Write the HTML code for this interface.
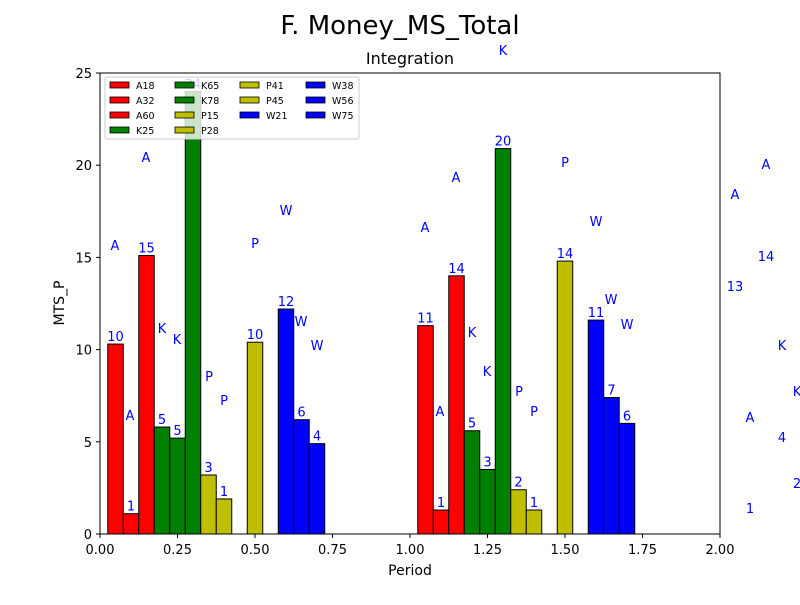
<!DOCTYPE html>
<html><head><meta charset="utf-8"><style>body{margin:0;background:#fff}svg{font-family:"DejaVu Sans","Liberation Sans",sans-serif}</style></head>
<body>
<svg id="c" width="800" height="600" xmlns="http://www.w3.org/2000/svg">
<text x="400" y="34" font-size="26" text-anchor="middle">F. Money_MS_Total</text>
<text x="410" y="64" font-size="16" text-anchor="middle">Integration</text>
<g id="bars"></g><g id="ann"></g>
<rect x="100" y="73" width="620" height="461" fill="none" stroke="#000" stroke-width="1"/>
<g id="ticks"></g>
<text x="410" y="575" font-size="14" text-anchor="middle">Period</text>
<text x="64" y="303" font-size="14" text-anchor="middle" transform="rotate(-90 64 303)">MTS_P</text>
<g id="legend"></g>
</svg>
<script>
const xPos=[0.05,0.1,0.15,0.2,0.25,0.3,0.35,0.4,0.5,0.6,0.65,0.7,1.05,1.1,1.15,1.2,1.25,1.3,1.35,1.4,1.5,1.6,1.65,1.7];
const values=[10.3,1.1,15.1,5.8,5.2,24,3.2,1.9,10.4,12.2,6.2,4.9,11.3,1.3,14,5.6,3.5,20.9,2.4,1.3,14.8,11.6,7.4,6.0];
const colors=["red","red","red","green","green","green","#bfbf00","#bfbf00","#bfbf00","blue","blue","blue","red","red","red","green","green","green","#bfbf00","#bfbf00","#bfbf00","blue","blue","blue"];
const xTicks=[0,0.25,0.5,0.75,1,1.25,1.5,1.75,2];
const xTickLabels=["0.00","0.25","0.50","0.75","1.00","1.25","1.50","1.75","2.00"];
const yTicks=[0,5,10,15,20,25];
const legendNames=["A18","A32","A60","K25","K65","K78","P15","P28","P41","P45","W21","W38","W56","W75"];
const legendColors=["red","red","red","green","green","green","#bfbf00","#bfbf00","#bfbf00","#bfbf00","blue","blue","blue","blue"];
const annText=["A","A","A","K","K","K","P","P","P","W","W","W","A","A","A","K","K","P","P","P","W","W","W","A","A","14","13","K","K","A","4","2","1"];
const annX=[115,130,146,162,177,503,209,224,255,286,301,317,425,440,456,472,487,519,534,565,596,611,627,766,735,766,735,782,797,750,782,797,750];
const annY=[245,415,157,328,339,50,376,400,243,210,321,345,227,411,177,332,371,391,411,162,221,299,324,164,194,256,286,345,391,417,437,483,508];
const NS="http://www.w3.org/2000/svg";
const X=v=>100+v*310, Y=v=>534-v*18.44;
function mk(t,a,p){const e=document.createElementNS(NS,t);for(const k in a)e.setAttribute(k,a[k]);(p||document.getElementById('c')).appendChild(e);return e;}
const bg=document.getElementById('bars');
xPos.forEach((x,i)=>{
 const r=mk('rect',{x:X(x-0.025),y:Y(values[i]),width:0.05*310,height:Y(0)-Y(values[i]),fill:colors[i],stroke:'#000','stroke-width':1},bg);
 
 
 const t=mk('text',{x:X(x),y:Y(values[i])-3,'font-size':13,fill:'blue','text-anchor':'middle'},bg);
 t.textContent=Math.floor(values[i]);
 
 
});
const ag=document.getElementById('ann');
annText.forEach((s,i)=>{
 const t=mk('text',{x:annX[i],y:annY[i]+5,'font-size':13,fill:'blue','text-anchor':'middle'},ag);
 t.textContent=s;
 
 
});
const tg=document.getElementById('ticks');
xTicks.forEach((v,i)=>{
 mk('line',{x1:X(v),x2:X(v),y1:534,y2:538,stroke:'#000'},tg);
 const t=mk('text',{x:X(v),y:554,'font-size':13,'text-anchor':'middle'},tg);
 t.textContent=xTickLabels[i];
 
 
});
yTicks.forEach(v=>{
 mk('line',{x1:96,x2:100,y1:Y(v),y2:Y(v),stroke:'#000'},tg);
 const t=mk('text',{x:92,y:Y(v)+5,'font-size':13,'text-anchor':'end'},tg);
 t.textContent=v;
 
 
});
const lg=document.getElementById('legend');
mk('rect',{x:105,y:77,width:254,height:62,rx:2,fill:'rgba(255,255,255,0.8)',stroke:'#ccc'},lg);
const colStart=[0,4,8,11];
legendNames.forEach((n,i)=>{
 const col=i<4?0:i<8?1:i<11?2:3;
 const row=i-colStart[col];
 const cx=[110,175,240,306][col], cy=82+row*15;
 const r=mk('rect',{x:cx,y:cy,width:19,height:6,fill:legendColors[i],stroke:'#000','stroke-width':0.8},lg);
 
 
 const t=mk('text',{x:cx+26,y:cy+7,'font-size':9.5},lg);
 t.textContent=n;
 
 
});
</script>
</body></html>
